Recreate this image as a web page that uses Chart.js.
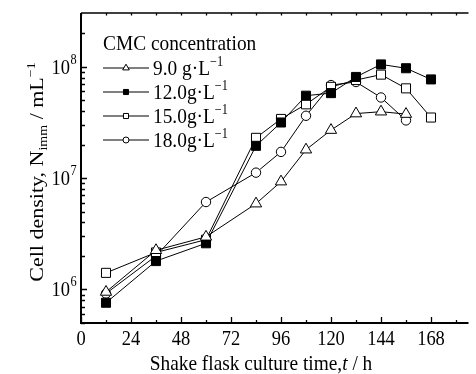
<!DOCTYPE html>
<html lang="en">
<head>
<meta charset="UTF-8">
<title>Cell density vs. shake flask culture time</title>
<script src="https://cdn.jsdelivr.net/npm/chart.js"></script>
<style>
  html, body { margin: 0; padding: 0; background: #fff; overflow: hidden; }
  canvas { display: block; }
</style>
</head>
<body>
<canvas id="chart" width="476" height="374"></canvas>
<script>
// culture time (h) and cell density (per mL), one array per CMC concentration
const hours = [12, 36, 60, 84, 96, 108, 120, 132, 144, 156, 168];
const cmc9  = [9.5e5, 2.25e6, 2.97e6, 5.9e6, 9.3e6, 1.8e7, 2.7e7, 3.8e7, 3.95e7, 3.76e7, null];
const cmc12 = [7.6e5, 1.8e6, 2.6e6, 1.95e7, 3.16e7, 5.5e7, 5.8e7, 8.1e7, 1.05e8, 9.7e7, 7.7e7];
const cmc15 = [1.41e6, 2.15e6, 2.8e6, 2.3e7, 3.4e7, 4.6e7, 6.6e7, 7.6e7, 8.5e7, 6.4e7, 3.5e7];
const cmc18 = [9.2e5, 2.0e6, 6.1e6, 1.12e7, 1.72e7, 3.63e7, 6.85e7, 7.3e7, 5.3e7, 3.3e7, null];
const seriesNames = ['9.0 g·L', '12.0g·L', '15.0g·L', '18.0g·L'];
const legendTitle = 'CMC concentration';
const xTickLabels = [0, 24, 48, 72, 96, 120, 144, 168];
const yTickExponents = [6, 7, 8];

const SERIF = "'Liberation Serif', 'Times New Roman', serif";
const SX = 0.88; // the original figure is a little narrower than it is tall

const Y_MIN = 5e5, Y_MAX = 3.04e8;

// minor ticks: every 12 h, and 1..9 within each decade
const xTickValues = [];
for (let h = 0; h <= 180; h += 12) xTickValues.push(h);
const yTickValues = [];
for (let e = 5; e <= 8; e++) {
  for (let m = 1; m <= 9; m++) {
    const v = m * Math.pow(10, e);
    if (v >= Y_MIN && v < Y_MAX * 0.98) yTickValues.push(v);
  }
}

function richText(ctx, segs, size, x, y, align, rotated) {
  const fontFor = s => (s.italic ? 'italic ' : '') + Math.round(s.sub || s.sup ? size * 0.62 : size) + 'px ' + SERIF;
  const widths = segs.map(s => { ctx.font = fontFor(s); return ctx.measureText(s.t).width; });
  const total = widths.reduce((a, b) => a + b, 0);
  ctx.save();
  ctx.translate(x, y);
  if (rotated) { ctx.rotate(-Math.PI / 2); ctx.scale(1, SX); } else { ctx.scale(SX, 1); }
  ctx.fillStyle = '#000';
  ctx.textAlign = 'left';
  ctx.textBaseline = 'alphabetic';
  let cx = align === 'center' ? -total / 2 : align === 'right' ? -total : 0;
  segs.forEach((s, i) => {
    ctx.font = fontFor(s);
    const dy = s.sup ? -size * 0.42 : s.sub ? size * 0.22 : 0;
    ctx.fillText(s.t, cx, dy);
    cx += widths[i];
  });
  ctx.restore();
}

const markers = [
  { pointStyle: 'triangle', radius: 6.5, fill: '#fff', legendRadius: 3.8 },
  { pointStyle: 'rect', radius: 6.4, fill: '#000', legendRadius: 3.6 },
  { pointStyle: 'rect', radius: 6.4, fill: '#fff', legendRadius: 3.6 },
  { pointStyle: 'circle', radius: 4.7, fill: '#fff', legendRadius: 3.0 }
];
const seriesValues = [cmc9, cmc12, cmc15, cmc18];

// axes frame with inward ticks
const framePlugin = {
  id: 'frame',
  beforeDatasetsDraw(chart) {
    const { ctx, chartArea: a, scales: { x, y } } = chart;
    ctx.save();
    ctx.strokeStyle = '#000';
    ctx.lineWidth = 2;
    ctx.beginPath();
    ctx.moveTo(a.left, a.top);
    ctx.lineTo(a.left, a.bottom);
    ctx.lineTo(a.right, a.bottom);
    ctx.stroke();
    ctx.lineWidth = 1.5;
    ctx.beginPath();
    ctx.moveTo(a.left, a.top);
    ctx.lineTo(a.right, a.top);
    ctx.stroke();

    ctx.lineWidth = 1.3;
    ctx.beginPath();
    x.ticks.forEach(t => {
      const px = Math.round(x.getPixelForValue(t.value)) + 0.5;
      const len = t.value % 24 === 0 ? 6 : 3;
      ctx.moveTo(px, a.bottom);
      ctx.lineTo(px, a.bottom - len);
      ctx.moveTo(px, a.top);
      ctx.lineTo(px, a.top + 2.5);
    });
    y.ticks.forEach(t => {
      const py = Math.round(y.getPixelForValue(t.value)) + 0.5;
      const major = Math.abs(Math.log10(t.value) - Math.round(Math.log10(t.value))) < 1e-9;
      ctx.moveTo(a.left, py);
      ctx.lineTo(a.left + (major ? 6 : 4), py);
    });
    ctx.stroke();
    ctx.restore();
  },
  afterDraw(chart) {
    const { ctx, chartArea: a, scales: { x, y } } = chart;

    xTickLabels.forEach(v => {
      richText(ctx, [{ t: String(v) }], 21, x.getPixelForValue(v), a.bottom + 22, 'center');
    });
    yTickExponents.forEach(e => {
      const py = y.getPixelForValue(Math.pow(10, e));
      richText(ctx, [{ t: '10' }], 21, a.left - 11, py + 7, 'right');
      richText(ctx, [{ t: String(e) }], 14, a.left - 10.5, py - 3, 'left');
    });

    richText(ctx, [{ t: 'Shake flask culture time,' }, { t: 't', italic: true }, { t: ' / h' }],
      22, 261, 370, 'center');
    richText(ctx, [{ t: 'Cell density, N' }, { t: 'imm', sub: true }, { t: ' / mL' }, { t: '\u22121', sup: true }],
      22, 43, 172, 'center', true);

    // legend inside the plot
    richText(ctx, [{ t: legendTitle }], 22, 103, 50, 'left');
    seriesNames.forEach((name, i) => {
      const ly = 68 + i * 24;
      const m = markers[i];
      ctx.save();
      ctx.strokeStyle = '#000';
      ctx.lineWidth = 1;
      ctx.beginPath();
      ctx.moveTo(103, ly);
      ctx.lineTo(149, ly);
      ctx.stroke();
      ctx.fillStyle = m.fill;
      Chart.helpers.drawPoint(ctx, { pointStyle: m.pointStyle, radius: m.legendRadius, borderWidth: 1, rotation: 0 }, 126, ly);
      ctx.restore();
      richText(ctx, [{ t: name }, { t: '\u22121', sup: true }], 22, 153, ly + 7, 'left');
    });
  }
};

new Chart(document.getElementById('chart'), {
  type: 'line',
  data: {
    datasets: seriesValues.map((vals, i) => ({
      label: seriesNames[i],
      data: hours.map((h, j) => ({ x: h, y: vals[j] })),
      borderColor: '#000',
      borderWidth: 1,
      pointStyle: markers[i].pointStyle,
      pointRadius: markers[i].radius,
      pointBackgroundColor: markers[i].fill,
      pointBorderColor: '#000',
      pointBorderWidth: 1,
      tension: 0,
      spanGaps: false
    }))
  },
  options: {
    responsive: false,
    animation: false,
    layout: { padding: { top: 13, left: 0, right: 0, bottom: 0 } },
    plugins: { legend: { display: false }, tooltip: { enabled: false } },
    scales: {
      x: {
        type: 'linear', min: 0, max: 186,
        grid: { display: false }, border: { display: false },
        ticks: { display: false },
        afterBuildTicks: s => { s.ticks = xTickValues.map(v => ({ value: v })); },
        afterFit: s => { s.height = 51; }
      },
      y: {
        type: 'logarithmic', min: Y_MIN, max: Y_MAX,
        grid: { display: false }, border: { display: false },
        ticks: { display: false },
        afterBuildTicks: s => { s.ticks = yTickValues.map(v => ({ value: v })); },
        afterFit: s => { s.width = 81; }
      }
    }
  },
  plugins: [framePlugin]
});
</script>
</body>
</html>
